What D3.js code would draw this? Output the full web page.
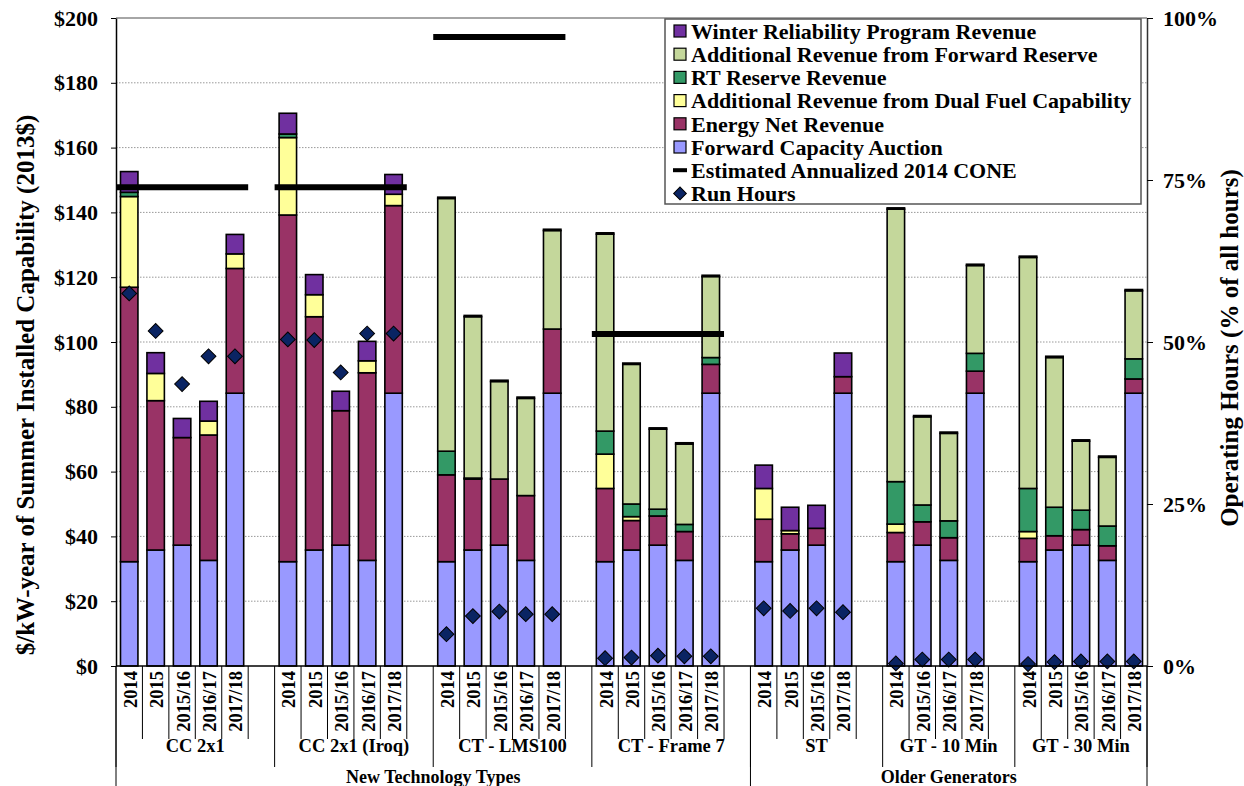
<!DOCTYPE html>
<html>
<head>
<meta charset="utf-8">
<script src="https://cdn.jsdelivr.net/npm/d3@7"></script>
<style>
  body { margin: 0; background: #fff; }
</style>
</head>
<body>
<div id="chart"></div>
<script>

let width = 1244;
let height = 786;

let margin = {
  top: 18,
  right: 97,
  bottom: 120,
  left: 116
};

let fontFamily = "'Liberation Serif', 'Times New Roman', serif";

// 分类
let groups = ['CC 2x1', 'CC 2x1 (Iroq)', 'CT - LMS100', 'CT - Frame 7', 'ST', 'GT - 10 Min', 'GT - 30 Min'];
let groupYears = [
  ['2014', '2015', '2015/16', '2016/17', '2017/18'],
  ['2014', '2015', '2015/16', '2016/17', '2017/18'],
  ['2014', '2015', '2015/16', '2016/17', '2017/18'],
  ['2014', '2015', '2015/16', '2016/17', '2017/18'],
  ['2014', '2015', '2015/16', '2017/18'],
  ['2014', '2015/16', '2016/17', '2017/18'],
  ['2014', '2015', '2015/16', '2016/17', '2017/18']
];
let superLabels = ['New Technology Types', 'Older Generators'];
let superGroupCount = [4, 3];

// 数值 ($/kW-year, 2013$), 每根柱子一个值
let fca = [
  32.2, 35.8, 37.3, 32.6, 84.2,
  32.2, 35.8, 37.3, 32.6, 84.2,
  32.2, 35.8, 37.3, 32.6, 84.2,
  32.2, 35.8, 37.3, 32.6, 84.2,
  32.2, 35.8, 37.3, 84.2,
  32.2, 37.3, 32.6, 84.2,
  32.2, 35.8, 37.3, 32.6, 84.2
];
let energy = [
  84.7, 46.1, 33.2, 38.7, 38.5,
  107.0, 72.0, 41.5, 57.9, 57.9,
  26.8, 21.9, 20.4, 20.0, 19.8,
  22.6, 9.1, 9.0, 8.9, 8.9,
  13.1, 5.0, 5.2, 5.1,
  9.0, 7.2, 7.0, 6.8,
  7.2, 4.4, 4.8, 4.5, 4.4
];
let dualFuel = [
  28.0, 8.4, 0, 4.3, 4.5,
  23.9, 6.8, 0, 3.7, 3.5,
  0, 0, 0, 0, 0,
  10.6, 1.2, 0, 0, 0,
  9.5, 1.0, 0, 0,
  2.6, 0, 0, 0,
  2.1, 0, 0, 0, 0
];
let rtReserve = [
  1.3, 0, 0, 0, 0,
  1.1, 0, 0, 0, 0,
  7.3, 0.3, 0, 0, 0,
  7.1, 3.9, 2.1, 2.2, 2.1,
  0, 0, 0, 0,
  13.1, 5.2, 5.2, 5.5,
  13.3, 8.8, 6.0, 6.1, 6.2
];
let fwdReserve = [
  0, 0, 0, 0, 0,
  0, 0, 0, 0, 0,
  78.0, 49.8, 30.1, 30.0, 30.4,
  60.8, 43.1, 24.7, 24.8, 25.0,
  0, 0, 0, 0,
  84.1, 27.2, 27.0, 27.1,
  71.3, 46.2, 21.3, 21.2, 21.0
];
let winter = [
  6.4, 6.4, 5.9, 6.1, 6.0,
  6.4, 6.2, 6.0, 6.0, 6.1,
  0.4, 0.4, 0.4, 0.4, 0.4,
  0.4, 0.4, 0.4, 0.4, 0.4,
  7.2, 7.2, 7.1, 7.3,
  0.4, 0.4, 0.4, 0.4,
  0.4, 0.4, 0.4, 0.4, 0.4
];
// 运行小时 (% of all hours)
let runHours = [
  57.5, 51.7, 43.5, 47.8, 47.8,
  50.4, 50.3, 45.3, 51.3, 51.3,
  4.9, 7.7, 8.4, 8.0, 8.0,
  1.2, 1.3, 1.6, 1.5, 1.5,
  8.9, 8.5, 8.9, 8.3,
  0.4, 1.0, 1.0, 1.0,
  0.3, 0.6, 0.7, 0.7, 0.7
];
// Estimated Annualized 2014 CONE, 每组一个
let cone = [147.8, 147.8, 194.1, 102.5, null, null, null];

let seriesKeys = ['fca', 'energy', 'dualFuel', 'rtReserve', 'fwdReserve', 'winter'];
let seriesNames = {
  winter: 'Winter Reliability Program Revenue',
  fwdReserve: 'Additional Revenue from Forward Reserve',
  rtReserve: 'RT Reserve Revenue',
  dualFuel: 'Additional Revenue from Dual Fuel Capability',
  energy: 'Energy Net Revenue',
  fca: 'Forward Capacity Auction'
};
let colors = {
  fca: '#9999FF',
  energy: '#993366',
  dualFuel: '#FFFF99',
  rtReserve: '#339966',
  fwdReserve: '#C4D79B',
  winter: '#7030A0'
};

let chart = function() {

  // 构建类目槽位 (每组后面留一个空位, 最后一组除外)
  let slots = [];
  let bars = [];
  let groupSpans = [];
  let bi = 0;
  groups.forEach((g, gi) => {
    let start = slots.length;
    groupYears[gi].forEach(yr => {
      let row = {slot: slots.length, year: yr, group: gi};
      row.fca = fca[bi]; row.energy = energy[bi]; row.dualFuel = dualFuel[bi];
      row.rtReserve = rtReserve[bi]; row.fwdReserve = fwdReserve[bi]; row.winter = winter[bi];
      row.run = runHours[bi];
      bars.push(row);
      slots.push(row);
      bi++;
    });
    let nYears = slots.length - start;
    if (gi < groups.length - 1) slots.push({slot: slots.length, year: '', group: gi});
    groupSpans.push({start: start, end: slots.length, nYears: nYears});
  });

  let x0 = margin.left, x1 = width - margin.right;
  let yBase = 666;

  let x = d3.scaleBand()
    .domain(d3.range(slots.length))
    .range([x0, x1])
    .paddingInner(0.34)
    .paddingOuter(0.17);

  let edge = i => x0 + i * x.step();

  let y = d3.scaleLinear()
    .domain([0, 200])
    .range([yBase, margin.top]);

  let y2 = d3.scaleLinear()
    .domain([0, 100])
    .range([yBase, margin.top]);

  const svg = d3.select('#chart').append('svg')
    .attr('width', width)
    .attr('height', height)
    .attr('font-family', fontFamily)
    .attr('font-weight', 'bold')
    .style('display', 'block');

  // 网格线
  svg.append('g')
    .selectAll('line')
    .data(d3.range(20, 200, 20))
    .join('line')
    .attr('x1', x0).attr('x2', x1)
    .attr('y1', d => y(d)).attr('y2', d => y(d))
    .attr('stroke', '#999')
    .attr('stroke-width', 1)
    .attr('stroke-dasharray', '1.5,1.5');

  svg.append('line')
    .attr('x1', x0).attr('x2', x1)
    .attr('y1', y(200)).attr('y2', y(200))
    .attr('stroke', '#888')
    .attr('stroke-width', 1.5);

  // 堆叠柱
  let stacked = d3.stack().keys(seriesKeys)(bars);
  svg.append('g')
    .selectAll('g')
    .data(stacked)
    .join('g')
    .attr('fill', d => colors[d.key])
    .selectAll('rect')
    .data(d => d.filter(s => s[1] - s[0] > 0))
    .join('rect')
    .attr('x', d => x(d.data.slot))
    .attr('width', x.bandwidth())
    .attr('y', d => y(d[1]))
    .attr('height', d => y(d[0]) - y(d[1]))
    .attr('stroke', '#000')
    .attr('stroke-width', 1.6);

  // CONE 线
  svg.append('g')
    .selectAll('line')
    .data(groupSpans.map((s, i) => ({s: s, v: cone[i]})).filter(d => d.v != null))
    .join('line')
    .attr('x1', d => edge(d.s.start))
    .attr('x2', d => edge(d.s.start + d.s.nYears))
    .attr('y1', d => y(d.v))
    .attr('y2', d => y(d.v))
    .attr('stroke', '#000')
    .attr('stroke-width', 6);

  // 运行小时 菱形
  let diamond = d3.symbol().type(d3.symbolSquare).size(110);
  svg.append('g')
    .selectAll('path')
    .data(bars)
    .join('path')
    .attr('d', diamond)
    .attr('transform', d => `translate(${x(d.slot) + x.bandwidth() / 2},${y2(d.run)}) rotate(45)`)
    .attr('fill', '#0A2463')
    .attr('stroke', '#000')
    .attr('stroke-width', 1);

  // y轴 (左)
  let yAxis = g => g
    .attr('transform', `translate(${x0}, 0)`)
    .call(d3.axisLeft(y).tickValues(d3.range(0, 201, 20)).tickFormat(d => '$' + d).tickSize(5).tickPadding(13).tickSizeOuter(0))
    .attr('font-family', fontFamily)
    .attr('font-size', 22)
    .call(g => g.select('.domain').attr('stroke-width', 1.5))
    .call(g => g.selectAll('text').attr('fill', '#000'));
  svg.append('g').call(yAxis);

  // y轴 (右)
  let y2Axis = g => g
    .attr('transform', `translate(${x1}, 0)`)
    .call(d3.axisRight(y2).tickValues([0, 25, 50, 75, 100]).tickFormat(d => d + '%').tickSize(6).tickPadding(10).tickSizeOuter(0))
    .attr('font-family', fontFamily)
    .attr('font-size', 22)
    .call(g => g.select('.domain').attr('stroke-width', 1.5).attr('stroke', '#333'))
    .call(g => g.selectAll('text').attr('fill', '#000'));
  svg.append('g').call(y2Axis);

  // x轴 基线
  svg.append('line')
    .attr('x1', x0).attr('x2', x1)
    .attr('y1', yBase).attr('y2', yBase)
    .attr('stroke', '#000')
    .attr('stroke-width', 1.5);

  // 第一层分隔线 (年份)
  let inner = [];
  groupSpans.forEach(s => {
    for (let i = s.start + 1; i < s.end; i++) inner.push(i);
  });
  svg.append('g')
    .selectAll('line')
    .data(inner)
    .join('line')
    .attr('x1', d => edge(d)).attr('x2', d => edge(d))
    .attr('y1', yBase).attr('y2', 739)
    .attr('stroke', '#000');

  // 第二层分隔线 (组)
  svg.append('g')
    .selectAll('line')
    .data(groupSpans.map(s => s.start).concat([slots.length]))
    .join('line')
    .attr('x1', d => edge(d)).attr('x2', d => edge(d))
    .attr('y1', yBase).attr('y2', 767)
    .attr('stroke', '#000');

  // 第三层分隔线
  let superEdges = [0];
  let acc = 0;
  superGroupCount.forEach(n => { acc += n; superEdges.push(groupSpans[acc - 1].end); });
  svg.append('g')
    .selectAll('line')
    .data(superEdges)
    .join('line')
    .attr('x1', d => edge(d)).attr('x2', d => edge(d))
    .attr('y1', yBase).attr('y2', height)
    .attr('stroke', '#000');

  // 年份标签
  svg.append('g')
    .selectAll('text')
    .data(bars)
    .join('text')
    .attr('transform', d => `translate(${x(d.slot) + x.bandwidth() / 2 + 1},671) rotate(-90)`)
    .attr('text-anchor', 'end')
    .attr('dy', '0.35em')
    .attr('font-size', 18.5)
    .text(d => d.year);

  // 组标签
  svg.append('g')
    .selectAll('text')
    .data(groupSpans)
    .join('text')
    .attr('x', d => (edge(d.start) + edge(d.end)) / 2)
    .attr('y', 752)
    .attr('text-anchor', 'middle')
    .attr('font-size', 18.5)
    .text((d, i) => groups[i]);

  // 第三层标签
  svg.append('g')
    .selectAll('text')
    .data(superLabels)
    .join('text')
    .attr('x', (d, i) => (edge(superEdges[i]) + edge(superEdges[i + 1])) / 2)
    .attr('y', 783)
    .attr('text-anchor', 'middle')
    .attr('font-size', 18)
    .text(d => d);

  // 轴标题
  svg.append('text')
    .attr('transform', 'translate(34,385) rotate(-90)')
    .attr('text-anchor', 'middle')
    .attr('font-size', 25)
    .text('$/kW-year of Summer Installed Capability (2013$)');

  svg.append('text')
    .attr('transform', 'translate(1238,348) rotate(-90)')
    .attr('text-anchor', 'middle')
    .attr('font-size', 25)
    .text('Operating Hours (% of all hours)');

  // 图例
  let lg = svg.append('g').attr('transform', 'translate(665,19)');
  lg.append('rect')
    .attr('width', 476).attr('height', 185)
    .attr('fill', '#fff')
    .attr('stroke', '#555')
    .attr('stroke-width', 1.5);

  let legendItems = ['winter', 'fwdReserve', 'rtReserve', 'dualFuel', 'energy', 'fca', 'cone', 'run'];
  let legendNames = Object.assign({}, seriesNames, {cone: 'Estimated Annualized 2014 CONE', run: 'Run Hours'});
  let rows = lg.selectAll('g.item')
    .data(legendItems)
    .join('g')
    .attr('class', 'item')
    .attr('transform', (d, i) => `translate(0,${12 + i * 23.2})`);

  rows.filter(d => colors[d])
    .append('rect')
    .attr('x', 9).attr('y', -6)
    .attr('width', 12).attr('height', 12)
    .attr('fill', d => colors[d])
    .attr('stroke', '#000')
    .attr('stroke-width', 1.2);

  rows.filter(d => d === 'cone')
    .append('rect')
    .attr('x', 8).attr('y', -2)
    .attr('width', 14).attr('height', 4)
    .attr('fill', '#000');

  rows.filter(d => d === 'run')
    .append('path')
    .attr('d', d3.symbol().type(d3.symbolSquare).size(80))
    .attr('transform', 'translate(15,0) rotate(45)')
    .attr('fill', '#0A2463')
    .attr('stroke', '#000');

  rows.append('text')
    .attr('x', 26)
    .attr('dy', '0.35em')
    .attr('font-size', 22)
    .text(d => legendNames[d]);
}

chart();
</script>
</body>
</html>
